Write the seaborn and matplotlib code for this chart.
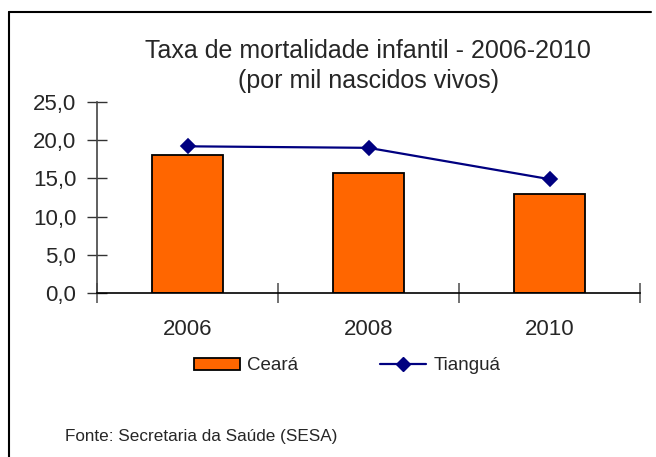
import matplotlib
matplotlib.use("Agg")
import matplotlib.pyplot as plt
from matplotlib.lines import Line2D
from matplotlib.patches import Patch
import seaborn as sns
import pandas as pd

years = ["2006", "2008", "2010"]
ceara = [18.0, 15.7, 13.0]
tiangua = [19.2, 19.0, 14.9]
yticks = [0, 5, 10, 15, 20, 25]
title = "Taxa de mortalidade infantil - 2006-2010\n(por mil nascidos vivos)"
source = "Fonte: Secretaria da Saúde (SESA)"

sns.set_style("white")
plt.rcParams['font.family'] = ['Liberation Sans', 'DejaVu Sans']

df = pd.DataFrame({"ano": years, "Ceará": ceara, "Tianguá": tiangua})

fig = plt.figure(figsize=(6.56, 4.57), dpi=100)
ax = fig.add_axes([97/656, 1-293/457, (640-97)/656, (293-102)/457])

sns.barplot(data=df, x="ano", y="Ceará", color="#FF6600", edgecolor="black",
            linewidth=1.3, width=0.39, saturation=1, ax=ax, zorder=2)
sns.pointplot(data=df, x="ano", y="Tianguá", color="#000080", markers="D",
              linewidth=1.6, markersize=7, ax=ax, zorder=3)

ax.set_xlim(-0.5, 2.5)
ax.set_ylim(0, 25)
ax.set_yticks(yticks)
ax.set_yticklabels([f"{v:.1f}".replace(".", ",") for v in yticks], fontsize=16)
ax.set_xticks([0, 1, 2])
ax.set_xticklabels(years, fontsize=16)
ax.tick_params(axis="x", which="major", length=0, pad=19, bottom=True)
ax.set_xticks([-0.5, 0.5, 1.5, 2.5], minor=True)
ax.tick_params(axis="x", which="minor", direction="inout", length=14, width=1.3,
               color="#666666", bottom=True)
ax.tick_params(axis="y", direction="inout", length=14, width=1, color="#333333",
               pad=8, left=True)
ax.set_xlabel("")
ax.set_ylabel("")
for s in ["top", "right"]:
    ax.spines[s].set_visible(False)
ax.spines["left"].set_color("#444444")
ax.spines["bottom"].set_color("black")
ax.spines["left"].set_linewidth(1.2)
ax.spines["bottom"].set_linewidth(1.2)

fig.text(368/656, 1-66/457, title, ha="center", va="center", fontsize=18, linespacing=1.3)

handles = [Patch(facecolor="#FF6600", edgecolor="black", linewidth=1.3),
           Line2D([0], [0], color="#000080", marker="D", markersize=7, linewidth=1.6)]
fig.legend(handles, ["Ceará", "Tianguá"], loc="center", bbox_to_anchor=(347/656, 1-366/457),
           ncol=2, frameon=False, fontsize=13.5, handlelength=2.45, handleheight=0.6,
           columnspacing=4.4, handletextpad=0.37)

fig.text(65/656, 1-437/457, source, ha="left", va="center", fontsize=12.3, stretch="condensed")

fig.add_artist(Line2D([9/656, 9/656], [0, 1-12/457], transform=fig.transFigure, color="black", linewidth=1.5))
fig.add_artist(Line2D([9/656, 651/656], [1-12/457, 1-12/457], transform=fig.transFigure, color="black", linewidth=1.5))

fig.savefig("out.png", dpi=100)
